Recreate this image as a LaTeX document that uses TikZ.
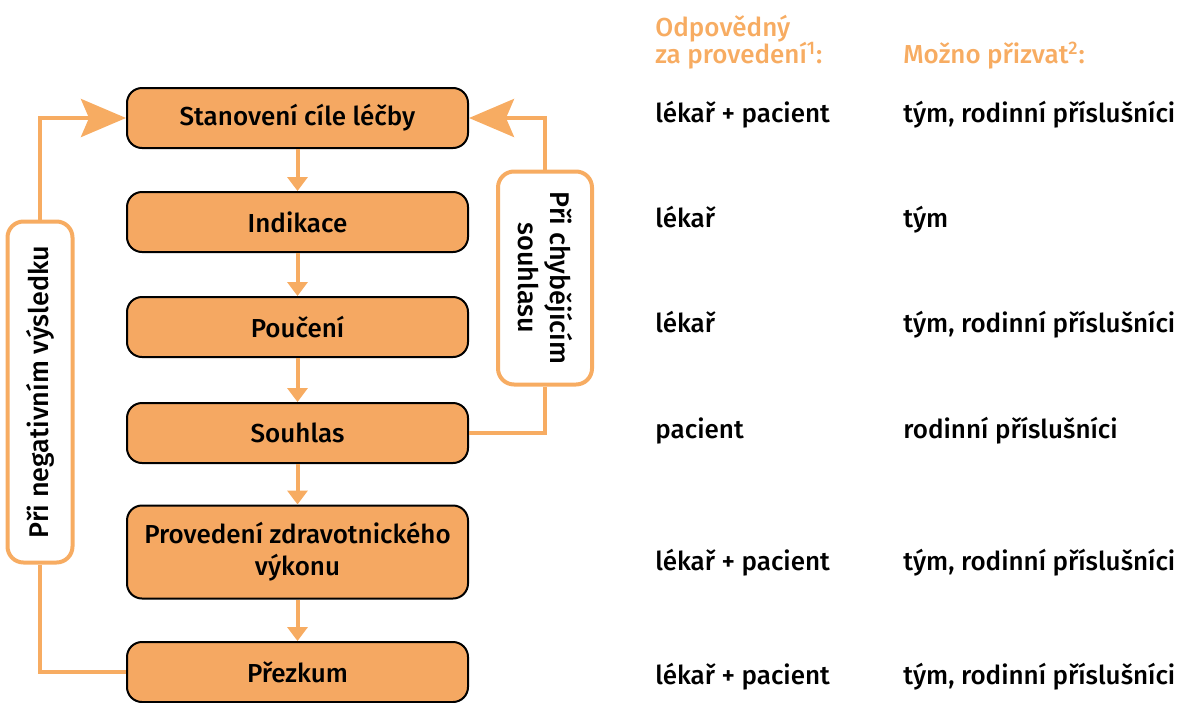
\documentclass[tikz,border=0pt]{standalone}
\usepackage{fontspec}
\setmainfont{Fira Sans}[UprightFont={* Medium}]
\usetikzlibrary{arrows.meta,positioning}
\definecolor{boxorange}{HTML}{F5A862}
\definecolor{lineorange}{HTML}{F7AC62}
\newlength\stepw
\setlength\stepw{170.5pt}
\newlength\steph
\setlength\steph{30pt}

\begin{document}
\begin{tikzpicture}[x=0.5pt,y=-0.5pt,
    stepbox/.style={draw=black,line width=1pt,fill=boxorange,rounded corners=7.5pt,
      minimum width=\stepw,minimum height=\steph,align=center,font=\fontsize{13}{16}\selectfont},
    sidebox/.style={draw=lineorange,line width=2pt,fill=white,rounded corners=8pt,
      align=center,font=\fontsize{13.5}{16}\selectfont},
    stepline/.style={draw=lineorange,line width=2pt,-{Triangle[width=10pt,length=7pt]}},
    loopline/.style={draw=lineorange,line width=2pt},
    looparrow/.style={loopline,-{Stealth[width=19pt,length=22.5pt,inset=4pt]}},
    coltext/.style={anchor=base west,inner sep=0pt,font=\fontsize{13}{16}\selectfont},
    headtext/.style={coltext,text=lineorange}]
  \useasboundingbox (0,0) rectangle (1181,702);

  % steps
  \node[stepbox] (goal) at (297.5,118) {Stanovení cíle léčby};
  \node[stepbox] (indic) at (297.5,222) {Indikace};
  \node[stepbox] (instr) at (297.5,327) {Poučení};
  \node[stepbox] (consent) at (297.5,433) {Souhlas};
  \node[stepbox,minimum height=46.5pt] (perf) at (297.5,552) {Provedení zdravotnického\\výkonu};
  \node[stepbox] (review) at (297.5,672) {Přezkum};

  \foreach \a/\b in {goal/indic,indic/instr,instr/consent,consent/perf,perf/review} {
    \draw[stepline] (\a) -- (\b);
  }

  % side loops
  \node[sidebox,rotate=90,minimum width=170.5pt,minimum height=32.5pt] (neg) at (40,392)
    {Při negativním výsledku};
  \node[sidebox,rotate=-90,minimum width=106.5pt,minimum height=47pt] (miss) at (545,278)
    {Při chybějícím\\souhlasu};

  \draw[loopline] (review.west) -| (neg.west);
  \draw[looparrow] (neg.east) |- (goal.west);
  \draw[loopline] (consent.east) -| (miss.east);
  \draw[looparrow] (miss.west) |- (goal.east);

  % columns
  \node[headtext] (head1) at (655,36) {Odpovědný};
  \node[headtext] (head2) at (655,63) {za provedení\textsuperscript{1}:};
  \node[headtext] (head3) at (903,63) {Možno přizvat\textsuperscript{2}:};

  \foreach[count=\i] \y/\r/\p in {122/lékař + pacient/{tým, rodinní příslušníci},
      227/lékař/tým,
      332/lékař/{tým, rodinní příslušníci},
      438/pacient/rodinní příslušníci,
      570/lékař + pacient/{tým, rodinní příslušníci},
      684/lékař + pacient/{tým, rodinní příslušníci}} {
    \node[coltext] (resp\i) at (655,\y) {\r};
    \node[coltext] (inv\i) at (903,\y) {\p};
  }
\end{tikzpicture}
\end{document}
